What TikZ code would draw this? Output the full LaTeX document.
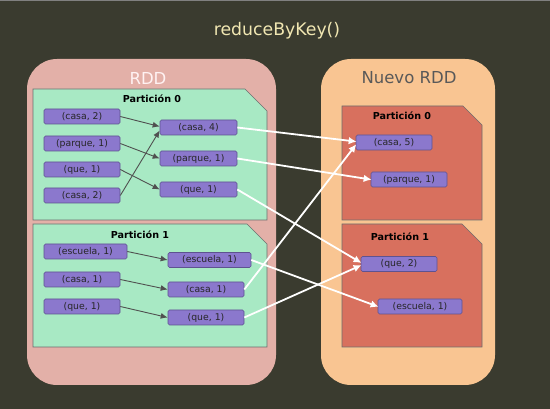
\documentclass[tikz,border=0pt]{standalone}
\usepackage{fontspec}
\setmainfont{DejaVu Sans}
\usetikzlibrary{arrows.meta,calc}
\definecolor{bgc}{HTML}{3A3B2F}
\definecolor{rddc}{HTML}{E3B0A8}
\definecolor{newc}{HTML}{F9C592}
\definecolor{grc}{HTML}{A8E9C4}
\definecolor{redc}{HTML}{D8705E}
\definecolor{purc}{HTML}{8B78CD}
\definecolor{purb}{HTML}{5E5290}
\definecolor{partb}{HTML}{6E6E6E}
\definecolor{titc}{HTML}{F1E7B2}
\definecolor{arrg}{HTML}{505050}
\tikzset{
  pair/.style={draw=purb, fill=purc, line width=0.6pt, rounded corners=1.5pt,
    minimum height=15pt, inner sep=0pt, font=\fontsize{9.3}{11}\selectfont, text=black!85},
  part/.style={draw=partb, line width=0.7pt},
  ptitle/.style={font=\fontsize{9.6}{11}\selectfont\bfseries, text=black, inner sep=0pt},
  garrow/.style={draw=arrg, line width=0.9pt, -{Latex[length=7pt,width=6pt]}},
  warrow/.style={draw=white, line width=1.8pt, -{Latex[length=8pt,width=7.5pt]}, shorten >=-1pt},
}
\begin{document}
\begin{tikzpicture}[x=1pt,y=-1pt]
\useasboundingbox (0,0) rectangle (550,409);
\fill[bgc] (0,0) rectangle (550,409);
\fill[black!50] (0,0) rectangle (550,1.5);
\node[font=\fontsize{17.3}{20}\selectfont, text=titc, inner sep=0pt] (title) at (277,31) {reduceByKey()};

% big containers
\fill[rddc, rounded corners=30pt] (27,59) rectangle (276,385);
\fill[newc, rounded corners=30pt] (321,59) rectangle (495,385);
\node[font=\fontsize{16.5}{19}\selectfont, text=white!95!red, inner sep=0pt] (rddlbl) at (148,78) {RDD};
\node[font=\fontsize{16.5}{19}\selectfont, text=black!65, inner sep=0pt] (newlbl) at (409,78) {Nuevo RDD};

% partitions
\draw[part, fill=grc] (33,89) -- (245,89) -- (267,111) -- (267,220) -- (33,220) -- cycle;
\draw[part, fill=grc] (33,224) -- (247,224) -- (267,244) -- (267,347) -- (33,347) -- cycle;
\draw[part, fill=redc] (342,106) -- (463,106) -- (482,125) -- (482,220) -- (342,220) -- cycle;
\draw[part, fill=redc] (342,224) -- (462,224) -- (482,244) -- (482,347) -- (342,347) -- cycle;
\node[ptitle] (p0l) at (152,99) {Partición 0};
\node[ptitle] (p1l) at (140,235) {Partición 1};
\node[ptitle] (p0r) at (402,116) {Partición 0};
\node[ptitle] (p1r) at (400,237) {Partición 1};

% left column partition 0
\node[pair, minimum width=76pt] (a1) at (82,116.5) {(casa, 2)};
\node[pair, minimum width=76pt] (a2) at (82,143.5) {(parque, 1)};
\node[pair, minimum width=76pt] (a3) at (82,169.5) {(que, 1)};
\node[pair, minimum width=76pt] (a4) at (82,195.5) {(casa, 2)};
\node[pair, minimum width=77pt] (b1) at (198.5,127.5) {(casa, 4)};
\node[pair, minimum width=77pt] (b2) at (198.5,158.5) {(parque, 1)};
\node[pair, minimum width=77pt] (b3) at (198.5,189.5) {(que, 1)};
% partition 1
\node[pair, minimum width=83pt] (c1) at (85.5,251.5) {(escuela, 1)};
\node[pair, minimum width=76pt] (c2) at (82,279.5) {(casa, 1)};
\node[pair, minimum width=76pt] (c3) at (82,306.5) {(que, 1)};
\node[pair, minimum width=83pt] (d1) at (209.5,260) {(escuela, 1)};
\node[pair, minimum width=76pt] (d2) at (206,289.5) {(casa, 1)};
\node[pair, minimum width=76pt] (d3) at (206,317.5) {(que, 1)};
% new rdd
\node[pair, minimum width=76pt] (e1) at (394,142.5) {(casa, 5)};
\node[pair, minimum width=76pt] (e2) at (409,179.5) {(parque, 1)};
\node[pair, minimum width=76pt] (f1) at (399,264) {(que, 2)};
\node[pair, minimum width=84pt] (f2) at (420,306.5) {(escuela, 1)};

% gray arrows
\draw[garrow] (a1.east) -- ([yshift=1pt]b1.west);
\draw[garrow] (a4.east) -- ([yshift=-3pt]b1.west);
\draw[garrow] (a2.east) -- (b2.west);
\draw[garrow] (a3.east) -- (b3.west);
\draw[garrow] (c1.east) -- (d1.west);
\draw[garrow] (c2.east) -- (d2.west);
\draw[garrow] (c3.east) -- (d3.west);

% white arrows
\draw[warrow] (b1.east) -- ([yshift=1pt]e1.west);
\draw[warrow] (b2.east) -- (e2.west);
\draw[warrow] (b3.east) -- ([yshift=1.5pt]f1.west);
\draw[warrow] (d1.east) -- (f2.west);
\draw[warrow] (d2.east) -- ([yshift=-2.5pt]e1.west);
\draw[warrow] (d3.east) -- ([yshift=-1.5pt]f1.west);
\end{tikzpicture}
\end{document}
